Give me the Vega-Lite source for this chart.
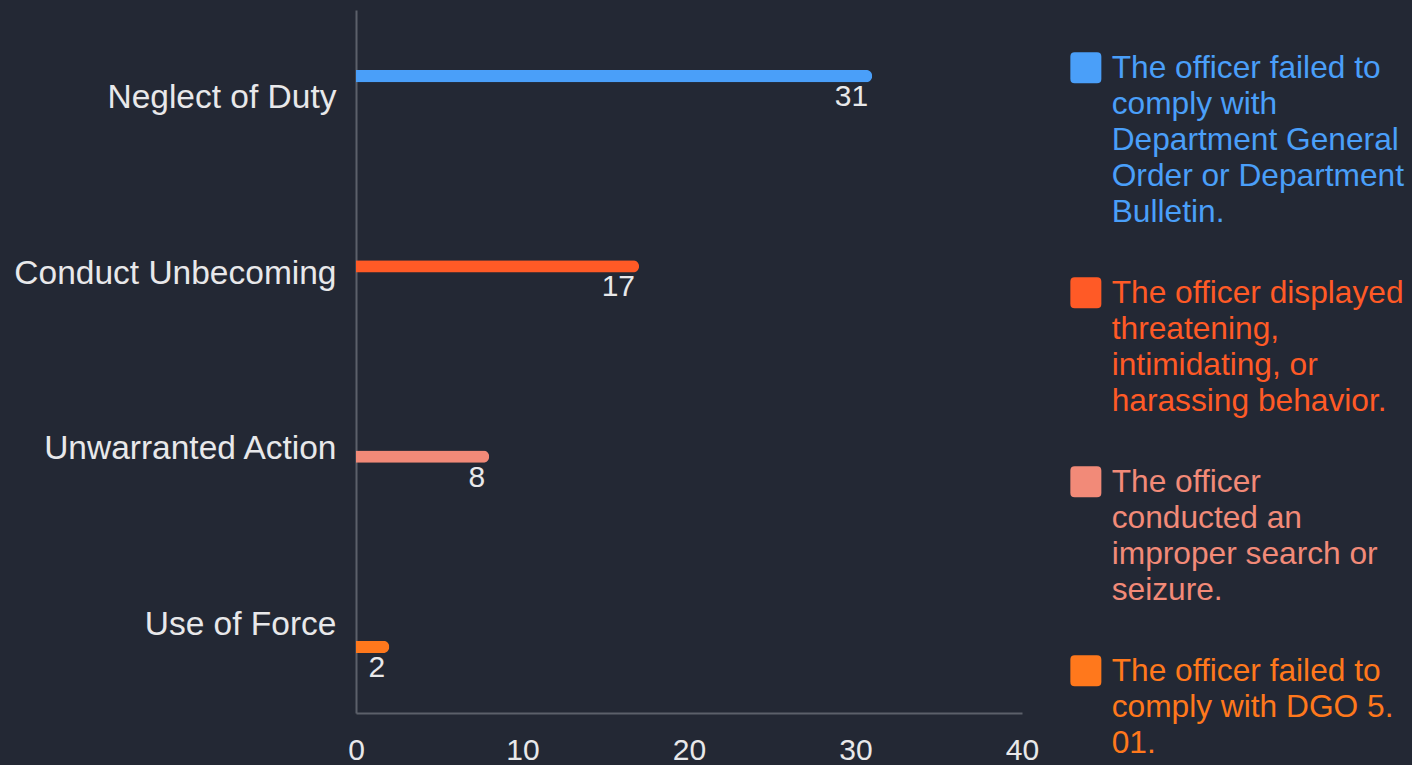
{
  "$schema": "https://vega.github.io/schema/vega-lite/v6.json",
  "autosize": {"type": "none"},
  "padding": {"left": 356, "top": 10, "right": 390, "bottom": 52},
  "width": 666,
  "height": 703,
  "background": "#232834",
  "config": {
    "view": {"stroke": null},
    "font": "Liberation Sans"
  },
  "data": {
    "values": [
      {"category": "Neglect of Duty", "type": "The officer failed to comply with Department General Order or Department Bulletin.", "count": 31},
      {"category": "Conduct Unbecoming", "type": "The officer displayed threatening, intimidating, or harassing behavior.", "count": 17},
      {"category": "Unwarranted Action", "type": "The officer conducted an improper search or seizure.", "count": 8},
      {"category": "Use of Force", "type": "The officer failed to comply with DGO 5.01.", "count": 2}
    ]
  },
  "encoding": {
    "y": {
      "field": "category",
      "type": "nominal",
      "sort": null,
      "scale": {"paddingInner": 0.682, "paddingOuter": 0.341},
      "axis": {
        "title": null,
        "ticks": false,
        "labelFontSize": 33.5,
        "labelColor": "#e8e8ea",
        "labelPadding": 20,
        "labelLimit": 400,
        "domainColor": "#5c606a",
        "domainWidth": 2
      }
    },
    "yOffset": {
      "field": "type",
      "type": "nominal",
      "sort": null,
      "scale": {"paddingInner": 0.15}
    },
    "x": {
      "field": "count",
      "type": "quantitative",
      "scale": {"domain": [0, 40]},
      "axis": {
        "title": null,
        "values": [0, 10, 20, 30, 40],
        "ticks": false,
        "grid": false,
        "labelFontSize": 30,
        "labelColor": "#e8e8ea",
        "labelPadding": 22,
        "labelFlush": false,
        "domainColor": "#5c606a",
        "domainWidth": 2
      }
    }
  },
  "layer": [
    {
      "mark": {"type": "bar", "cornerRadiusEnd": 6},
      "encoding": {
        "color": {
          "field": "type",
          "type": "nominal",
          "sort": null,
          "scale": {
            "domain": [
              "The officer failed to comply with Department General Order or Department Bulletin.",
              "The officer displayed threatening, intimidating, or harassing behavior.",
              "The officer conducted an improper search or seizure.",
              "The officer failed to comply with DGO 5.01."
            ],
            "range": ["#4a9ff9", "#ff5a26", "#f28a78", "#ff781c"]
          },
          "legend": {
            "title": null,
            "orient": "none",
            "legendX": 714,
            "legendY": 42,
            "symbolType": "M -0.72 -1 L 0.72 -1 Q 1 -1 1 -0.72 L 1 0.72 Q 1 1 0.72 1 L -0.72 1 Q -1 1 -1 0.72 L -1 -0.72 Q -1 -1 -0.72 -1 Z",
            "symbolSize": 961,
            "symbolStrokeWidth": 0,
            "symbolOpacity": 1,
            "labelFontSize": 31.7,
            "labelOffset": 10,
            "labelBaseline": "top",
            "labelLimit": 400,
            "rowPadding": 48,
            "labelExpr": "datum.label == 'The officer failed to comply with Department General Order or Department Bulletin.' ? ['The officer failed to', 'comply with', 'Department General', 'Order or Department', 'Bulletin.'] : datum.label == 'The officer displayed threatening, intimidating, or harassing behavior.' ? ['The officer displayed', 'threatening,', 'intimidating, or', 'harassing behavior.'] : datum.label == 'The officer conducted an improper search or seizure.' ? ['The officer', 'conducted an', 'improper search or', 'seizure.'] : ['The officer failed to', 'comply with DGO 5.', '01.']",
            "encode": {
              "labels": {
                "update": {
                  "fill": {"scale": "color", "field": "value"},
                  "lineHeight": {"value": 36},
                  "dy": {"value": -15}
                }
              }
            }
          }
        }
      }
    },
    {
      "mark": {"type": "text", "align": "right", "baseline": "middle", "dx": -4, "dy": 21, "fontSize": 30, "color": "#e8e8ea"},
      "encoding": {
        "text": {"field": "count", "type": "quantitative"}
      }
    }
  ]
}
